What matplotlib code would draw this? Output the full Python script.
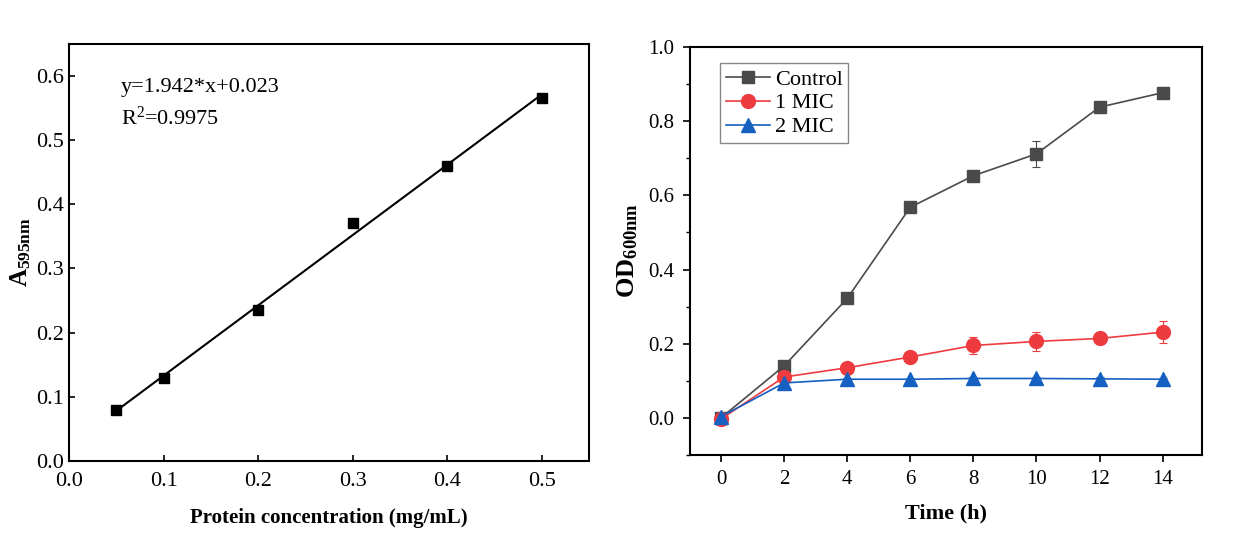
import numpy as np
import matplotlib
matplotlib.use("Agg")
import matplotlib.pyplot as plt
from matplotlib.lines import Line2D

plt.rcParams["font.family"] = ["Liberation Serif", "DejaVu Serif"]
plt.rcParams["mathtext.fontset"] = "custom"
plt.rcParams["mathtext.rm"] = "Liberation Serif"
plt.rcParams["mathtext.bf"] = "Liberation Serif:bold"
plt.rcParams["mathtext.it"] = "Liberation Serif:italic"

# ── Data: protein standard curve ──────────────────────────────────────────────
conc = [0.05, 0.1, 0.2, 0.3, 0.4, 0.5]
absorb = [0.079, 0.129, 0.235, 0.370, 0.459, 0.566]

# ── Data: growth curves ───────────────────────────────────────────────────────
time_h = [0, 2, 4, 6, 8, 10, 12, 14]
control = [0.000, 0.140, 0.322, 0.568, 0.653, 0.712, 0.838, 0.877]
control_err = [0.005, 0.010, 0.010, 0.010, 0.008, 0.035, 0.015, 0.015]
mic1 = [-0.003, 0.110, 0.135, 0.164, 0.195, 0.206, 0.214, 0.231]
mic1_err = [0.005, 0.010, 0.008, 0.008, 0.022, 0.025, 0.015, 0.030]
mic2 = [0.003, 0.094, 0.104, 0.104, 0.106, 0.106, 0.105, 0.104]
mic2_err = [0.003, 0.005, 0.004, 0.004, 0.004, 0.004, 0.004, 0.004]

fig = plt.figure(figsize=(12.56, 5.48), dpi=100)

# ── Left panel ────────────────────────────────────────────────────────────────
ax1 = fig.add_axes([0.055, 0.159, 0.414, 0.761])
slope, intercept = np.polyfit(conc, absorb, 1)
xfit = np.array([conc[0], conc[-1]])
ax1.plot(xfit, slope * xfit + intercept, color="black", linewidth=1.5)
ax1.plot(conc, absorb, linestyle="none", marker="s", markersize=7, color="black")
ax1.set_xlim(0, 0.55)
ax1.set_ylim(0, 0.65)
ax1.set_xticks([0.0, 0.1, 0.2, 0.3, 0.4, 0.5])
ax1.set_yticks([0.0, 0.1, 0.2, 0.3, 0.4, 0.5, 0.6])
ax1.xaxis.set_major_formatter(plt.FormatStrFormatter("%.1f"))
ax1.yaxis.set_major_formatter(plt.FormatStrFormatter("%.1f"))
ax1.tick_params(direction="in", length=4, width=1.2, labelsize=16, pad=4)
ax1.tick_params(axis="x", pad=8)
for s in ax1.spines.values():
    s.set_linewidth(1.5)
ax1.set_xlabel("Protein concentration (mg/mL)", fontsize=15, fontweight="bold", labelpad=12)
ax1.set_ylabel(r"$\mathbf{A_{595nm}}$", fontsize=18, labelpad=2)
ax1.text(0.1, 0.885, "y=1.942*x+0.023", transform=ax1.transAxes, fontsize=16)
ax1.text(0.1, 0.805, r"R$^2$=0.9975", transform=ax1.transAxes, fontsize=16)

# ── Right panel ───────────────────────────────────────────────────────────────
ax2 = fig.add_axes([0.549, 0.170, 0.408, 0.744])
series = [
    ("Control", control, control_err, "#4a4a4a", "s", 9),
    ("1 MIC", mic1, mic1_err, "#ee3b3f", "o", 10),
    ("2 MIC", mic2, mic2_err, "#1560c0", "^", 10),
]
handles = []
for name, vals, err, col, mk, ms in series:
    ax2.errorbar(time_h, vals, yerr=err, color=col, marker=mk, markersize=ms,
                 linewidth=1.2, elinewidth=0.8, capsize=3, capthick=0.8,
                 ecolor=col)
    handles.append(Line2D([0], [0], color=col, marker=mk, markersize=ms,
                          linewidth=1.2, label=name))
ax2.set_xlim(-1, 15.25)
ax2.set_ylim(-0.1, 1.0)
ax2.set_xticks(time_h)
ax2.set_yticks([0.0, 0.2, 0.4, 0.6, 0.8, 1.0])
ax2.set_yticks(np.arange(-0.1, 1.0, 0.2), minor=True)
ax2.yaxis.set_major_formatter(plt.FormatStrFormatter("%.1f"))
ax2.tick_params(direction="out", length=5, width=1.2, labelsize=15, pad=6)
ax2.tick_params(which="minor", direction="out", length=3, width=1.0)
for s in ax2.spines.values():
    s.set_linewidth(1.5)
ax2.set_xlabel("Time (h)", fontsize=16, fontweight="bold", labelpad=10)
ax2.set_ylabel(r"$\mathbf{OD_{600nm}}$", fontsize=19, labelpad=6)
leg = ax2.legend(handles=handles, loc="upper left", bbox_to_anchor=(0.06, 0.96),
                 fontsize=16, fancybox=False, edgecolor="#888888", framealpha=1,
                 handlelength=2.0, handletextpad=0.2, borderpad=0.25,
                 labelspacing=0.15, borderaxespad=0)
leg.get_frame().set_linewidth(1.0)

plt.savefig("out.png", dpi=100)
